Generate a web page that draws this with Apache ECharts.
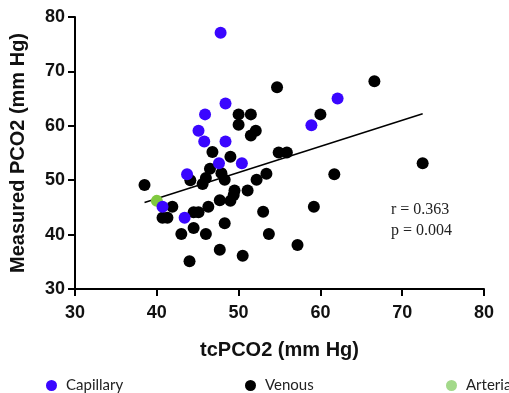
<!DOCTYPE html>
<html>
<head>
<meta charset="UTF-8" />
<script src="https://cdn.jsdelivr.net/npm/echarts@6/dist/echarts.min.js"></script>
<style>
  html, body { margin: 0; padding: 0; background: #fff; }
  #chart { width: 509px; height: 393px; }
</style>
</head>
<body>
<div id="chart"></div>
<script>
// tcPCO2 vs measured PCO2
const capillary = [
  [47.8, 77.1], [48.4, 64.1], [45.9, 62.1], [45.1, 59.1], [45.8, 57.1], [48.4, 57.1],
  [47.6, 53.1], [50.4, 53.1], [43.7, 51.1], [40.7, 45.1], [43.4, 43.1], [62.1, 65.0],
  [58.9, 60.1]
];
const arterial = [[40.0, 46.2]];
const venous = [
  [54.7, 67.1], [66.6, 68.2], [50.0, 62.1], [51.5, 62.1], [60.0, 62.1], [50.0, 60.2],
  [52.1, 59.1], [51.5, 58.2], [46.8, 55.2], [54.9, 55.1], [55.9, 55.1], [49.0, 54.3],
  [72.5, 53.1], [46.5, 52.1], [47.9, 51.3], [53.4, 51.2], [61.7, 51.1], [48.3, 50.1],
  [46.0, 50.4], [45.6, 49.3], [44.1, 50.0], [52.2, 50.1], [38.5, 49.1], [51.1, 48.1],
  [49.5, 48.1], [49.4, 47.3], [49.0, 46.2], [47.7, 46.3], [46.3, 45.1], [44.5, 44.1],
  [45.1, 44.1], [41.9, 45.1], [40.7, 43.1], [41.3, 43.1], [53.0, 44.2], [59.2, 45.1],
  [48.3, 42.1], [44.5, 41.2], [43.0, 40.1], [46.0, 40.1], [53.7, 40.1], [47.7, 37.2],
  [57.2, 38.1], [50.5, 36.1], [44.0, 35.1]
];
// regression line end points
const fitLine = [[38.5, 45.9], [72.5, 62.2]];
const statsText = ['r = 0.363', 'p = 0.004'];

const BLUE = '#3a06ff';
const GREEN = '#80c93f';
const axisFont = { fontFamily: 'Liberation Sans, Arial', fontWeight: 'bold', color: '#111' };

function legendAt(left, name, iconColor) {
  return {
    left: left,
    top: 373,
    itemWidth: 11,
    itemHeight: 11,
    itemGap: 0,
    icon: 'circle',
    data: [{ name: name, itemStyle: { color: iconColor } }],
    textStyle: { fontFamily: 'Lato, Noto Sans', fontSize: 15, color: '#222', padding: [0, 0, 0, 4] },
    selectedMode: false
  };
}

const chart = echarts.init(document.getElementById('chart'));
chart.setOption({
  animation: false,
  grid: { left: 74, right: 25, top: 17, bottom: 104 },
  legend: [
    legendAt(41, 'Capillary', BLUE),
    legendAt(240, 'Venous', '#000'),
    legendAt(441, 'Arterial', '#a3d98a')
  ],
  xAxis: {
    type: 'value', min: 30, max: 80, interval: 10,
    name: 'tcPCO2 (mm Hg)', nameLocation: 'middle', nameGap: 51,
    nameTextStyle: Object.assign({ fontSize: 20 }, axisFont),
    axisLine: { show: true, onZero: false, lineStyle: { color: '#000', width: 2 } },
    axisTick: { show: true, length: 7, lineStyle: { color: '#000', width: 2 } },
    axisLabel: Object.assign({ fontSize: 18, margin: 15 }, axisFont),
    splitLine: { show: false }
  },
  yAxis: {
    type: 'value', min: 30, max: 80, interval: 10,
    name: 'Measured PCO2 (mm Hg)', nameLocation: 'middle', nameGap: 47,
    nameTextStyle: Object.assign({ fontSize: 20 }, axisFont),
    axisLine: { show: true, onZero: false, lineStyle: { color: '#000', width: 2 } },
    axisTick: { show: true, length: 7, lineStyle: { color: '#000', width: 2 } },
    axisLabel: Object.assign({ fontSize: 18, margin: 10 }, axisFont),
    splitLine: { show: false }
  },
  graphic: [{
    type: 'text', left: 391, top: 199,
    style: {
      text: statsText.join('\n'), fontFamily: 'Liberation Serif, Times New Roman',
      fontSize: 16, lineHeight: 21, fill: '#222'
    }
  }],
  series: [
    {
      name: 'fit', type: 'line', data: fitLine, symbol: 'none', silent: true,
      lineStyle: { color: '#000', width: 1.5 }, z: 1
    },
    {
      name: 'Venous', type: 'scatter', data: venous, symbolSize: 12,
      itemStyle: { color: '#000', opacity: 1 }, z: 2
    },
    {
      name: 'Arterial', type: 'scatter', data: arterial, symbolSize: 12,
      itemStyle: { color: GREEN, opacity: 1 }, z: 3
    },
    {
      name: 'Capillary', type: 'scatter', data: capillary, symbolSize: 12,
      itemStyle: { color: BLUE, opacity: 1 }, z: 4
    }
  ]
});
</script>
</body>
</html>
